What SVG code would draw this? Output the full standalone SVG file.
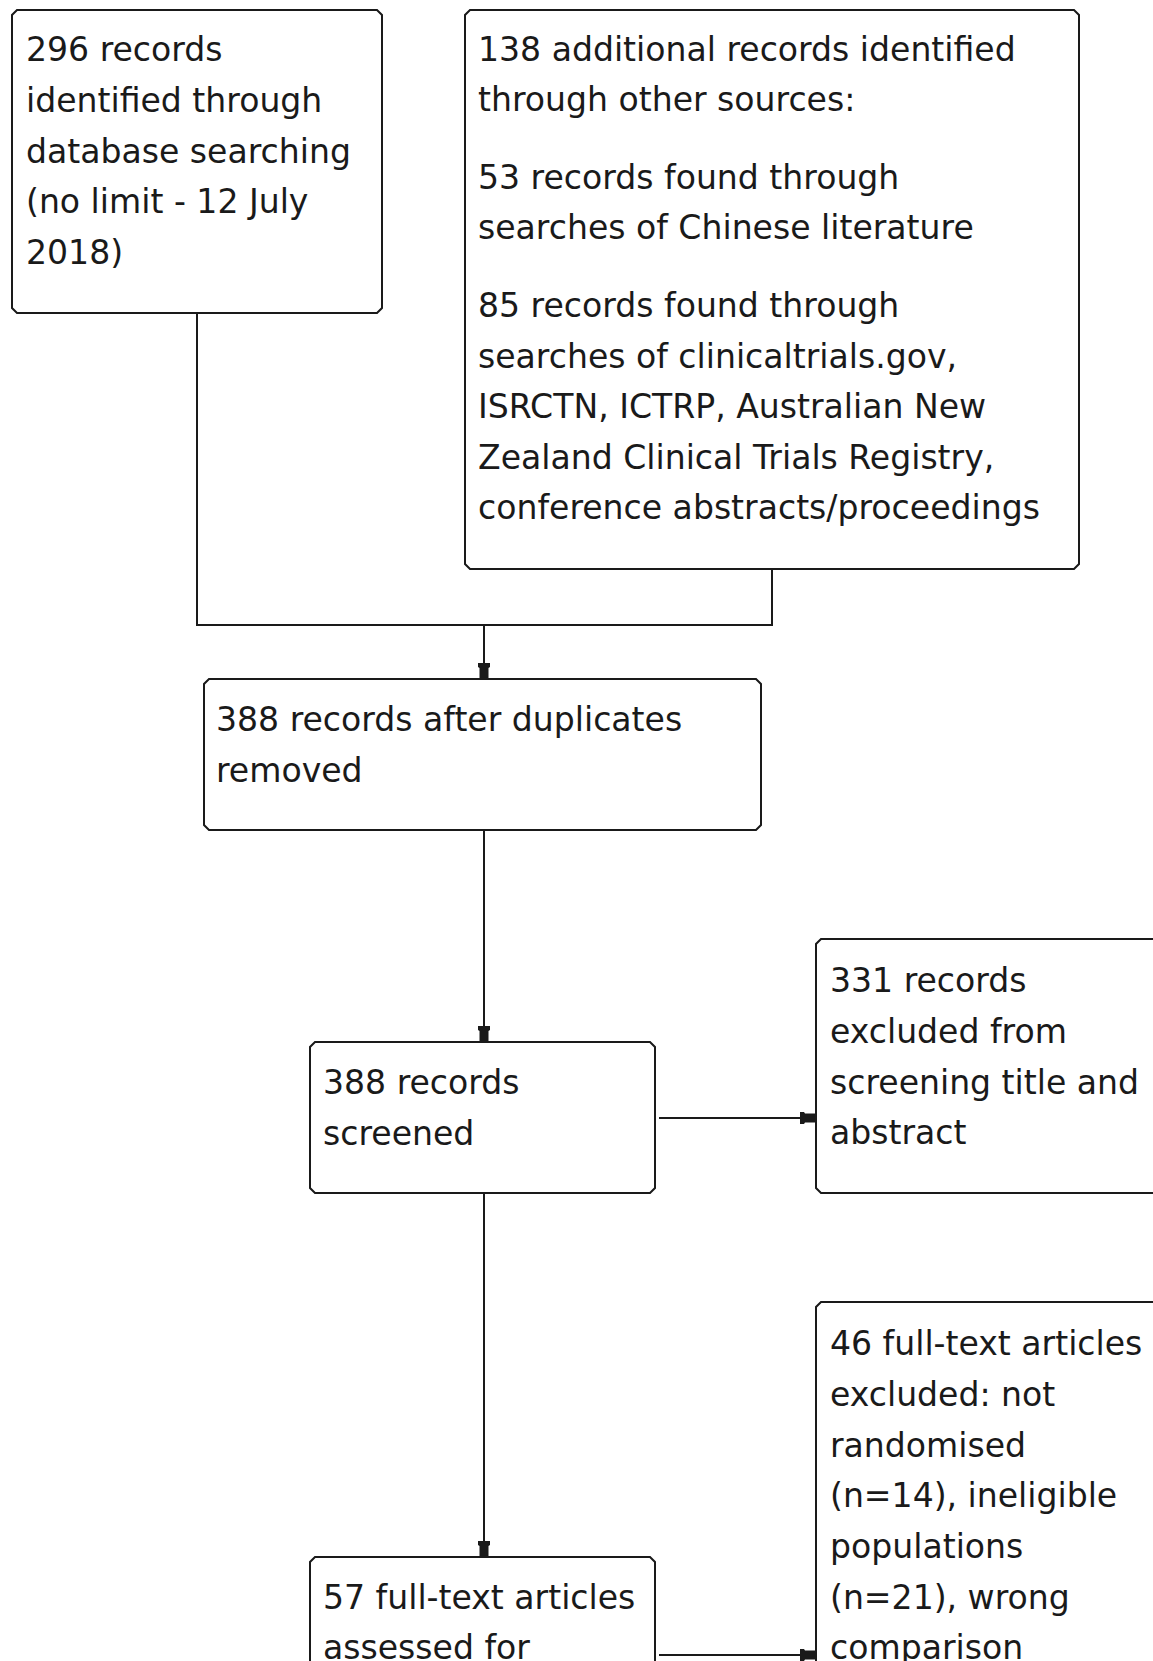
<svg xmlns="http://www.w3.org/2000/svg" width="1153" height="1661" viewBox="0 0 1153 1661">
<style>
.box{fill:#fff;stroke:#1a1a1a;stroke-width:2}
.lbl{font-family:"DejaVu Sans","Liberation Sans",sans-serif;font-size:33.1px;fill:#1a1a1a}
.conn{fill:none;stroke:#1a1a1a;stroke-width:2}
</style>
<defs>
<marker id="ah" markerUnits="userSpaceOnUse" markerWidth="22" markerHeight="16" viewBox="-18 -8 22 16" refX="0" refY="0" orient="auto">
<path d="M-16,-6 L-12,-6 L-11,-4.5 L-1,-4.5 L0,0 L-1,4.5 L-11,4.5 L-12,6 L-16,6 Z" fill="#1a1a1a"/>
</marker>
</defs>
<rect width="1153" height="1661" fill="#fff"/>
<g id="connectors">
<path class="conn" d="M197,313 V625 H772 V569"/>
<path class="conn" d="M484,625 V679" marker-end="url(#ah)"/>
<path class="conn" d="M484,830 V1042" marker-end="url(#ah)"/>
<path class="conn" d="M659,1118 H816" marker-end="url(#ah)"/>
<path class="conn" d="M484,1193 V1557" marker-end="url(#ah)"/>
<path class="conn" d="M659,1655 H816" marker-end="url(#ah)"/>
</g>
<g id="n1">
<path class="box" d="M17,10 H377 L382,15 V308 L377,313 H17 L12,308 V15 Z"/>
<text class="lbl"><tspan x="26" y="61">296 records</tspan><tspan x="26" y="112">identified through</tspan><tspan x="26" y="163">database searching</tspan><tspan x="26" y="213">(no limit - 12 July</tspan><tspan x="26" y="264">2018)</tspan></text>
</g>
<g id="n2">
<path class="box" d="M470,10 H1074 L1079,15 V564 L1074,569 H470 L465,564 V15 Z"/>
<text class="lbl"><tspan x="478" y="61">138 additional records identified</tspan><tspan x="478" y="111">through other sources:</tspan><tspan x="478" y="189">53 records found through</tspan><tspan x="478" y="239">searches of Chinese literature</tspan><tspan x="478" y="317">85 records found through</tspan><tspan x="478" y="368">searches of clinicaltrials.gov,</tspan><tspan x="478" y="418">ISRCTN, ICTRP, Australian New</tspan><tspan x="478" y="469">Zealand Clinical Trials Registry,</tspan><tspan x="478" y="519">conference abstracts/proceedings</tspan></text>
</g>
<g id="n3">
<path class="box" d="M209,679 H756 L761,684 V825 L756,830 H209 L204,825 V684 Z"/>
<text class="lbl"><tspan x="216" y="731">388 records after duplicates</tspan><tspan x="216" y="782">removed</tspan></text>
</g>
<g id="n4">
<path class="box" d="M315,1042 H650 L655,1047 V1188 L650,1193 H315 L310,1188 V1047 Z"/>
<text class="lbl"><tspan x="323" y="1094">388 records</tspan><tspan x="323" y="1145">screened</tspan></text>
</g>
<g id="n5">
<path class="box" d="M821,939 H1165 L1170,944 V1188 L1165,1193 H821 L816,1188 V944 Z"/>
<text class="lbl"><tspan x="830" y="992">331 records</tspan><tspan x="830" y="1043">excluded from</tspan><tspan x="830" y="1094">screening title and</tspan><tspan x="830" y="1144">abstract</tspan></text>
</g>
<g id="n6">
<path class="box" d="M310,1700 V1562 L315,1557 H650 L655,1562 V1700"/>
<text class="lbl"><tspan x="323" y="1609">57 full-text articles</tspan><tspan x="323" y="1659">assessed for</tspan></text>
</g>
<g id="n7">
<path class="box" d="M816,1700 V1307 L821,1302 H1165 L1170,1307 V1700"/>
<text class="lbl"><tspan x="830" y="1355">46 full-text articles</tspan><tspan x="830" y="1406">excluded: not</tspan><tspan x="830" y="1457">randomised</tspan><tspan x="830" y="1507">(n=14), ineligible</tspan><tspan x="830" y="1558">populations</tspan><tspan x="830" y="1609">(n=21), wrong</tspan><tspan x="830" y="1659">comparison</tspan></text>
</g>
</svg>
